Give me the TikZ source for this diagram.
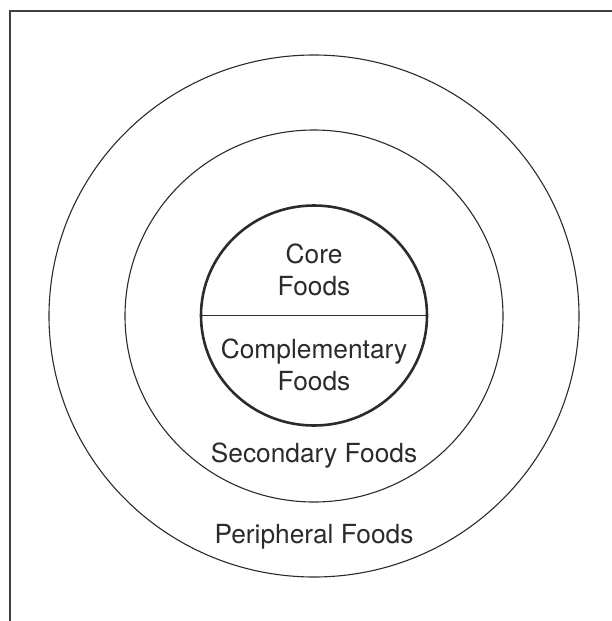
\documentclass[tikz,border=0pt]{standalone}
\usepackage{fontspec}
\setmainfont{TeX Gyre Heros}
\usetikzlibrary{shapes.geometric}
\definecolor{ink}{HTML}{2B2B2B}
\begin{document}
\begin{tikzpicture}[x=1pt,y=-1pt,
  ring/.style={draw=ink,ellipse,inner sep=0pt,line width=1.1pt},
  corering/.style={draw=ink,ellipse,inner sep=0pt,line width=2.6pt},
  lbl/.style={anchor=base,text=ink,font=\fontsize{26.3}{31}\selectfont,inner sep=0pt}]
\useasboundingbox (0,0) rectangle (612,621);
% open frame: top and left edges only
\draw[ink!90,line width=2pt] (9.5,621) -- (9.5,11) -- (612,11);
% concentric rings
\node[ring,minimum width=530pt,minimum height=522pt] (outer) at (314,316) {};
\node[ring,minimum width=378pt,minimum height=372pt] (middle) at (314,316) {};
\node[corering,minimum width=226pt,minimum height=220pt] (core) at (314,315.5) {};
\draw[ink,line width=1.5pt] (core.west) -- (core.east);
% labels
\node[lbl] (corea) at (314,263.5) {Core};
\node[lbl] (coreb) at (314,295.5) {Foods};
\node[lbl] (compa) at (314,358) {Complementary};
\node[lbl] (compb) at (314,390) {Foods};
\node[lbl] (sec) at (314,462.5) {Secondary Foods};
\node[lbl] (per) at (314,543) {Peripheral Foods};
\end{tikzpicture}
\end{document}
